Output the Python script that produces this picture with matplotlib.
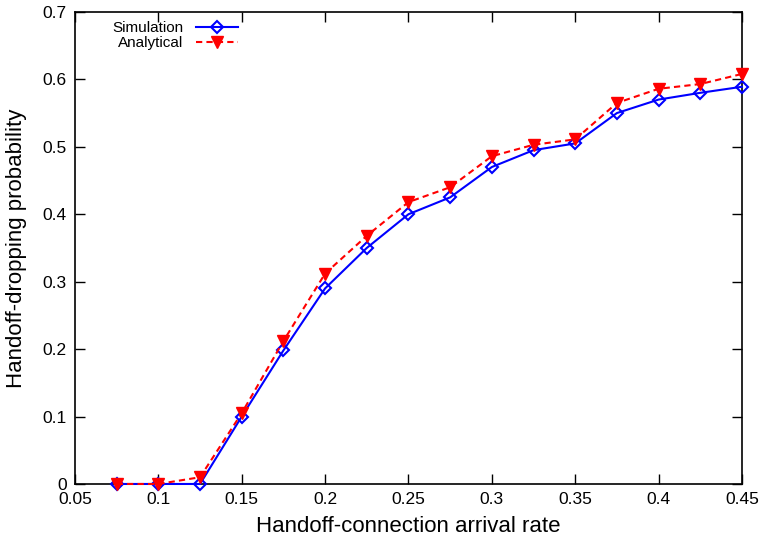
import matplotlib
matplotlib.use("Agg")
import matplotlib.pyplot as plt
from matplotlib.ticker import FuncFormatter

rate = [0.075, 0.1, 0.125, 0.15, 0.175, 0.2, 0.225, 0.25, 0.275, 0.3,
        0.325, 0.35, 0.375, 0.4, 0.425, 0.45]
simulation = [0.0, 0.0, 0.0, 0.100, 0.198, 0.290, 0.350, 0.400, 0.425, 0.470,
              0.495, 0.505, 0.550, 0.570, 0.580, 0.589]
analytical = [0.0, 0.0, 0.010, 0.105, 0.212, 0.312, 0.368, 0.418, 0.440, 0.486,
              0.503, 0.511, 0.565, 0.586, 0.593, 0.608]

xticks = [0.05, 0.1, 0.15, 0.2, 0.25, 0.3, 0.35, 0.4, 0.45]
yticks = [0, 0.1, 0.2, 0.3, 0.4, 0.5, 0.6, 0.7]

plt.rcParams['font.family'] = ['Liberation Sans', 'DejaVu Sans']

fig = plt.figure(figsize=(7.62, 5.41), dpi=100)
ax = fig.add_axes([0.0984, 0.1054, 0.8753, 0.8726])

ax.plot(rate, simulation, color='#0000ff', lw=1.5, marker='D', ms=6.5,
        mfc='none', mec='#0000ff', mew=1.5, label='Simulation', clip_on=False,
        zorder=3)
ax.plot(rate, analytical, color='#ff0000', lw=1.5, ls=(0, (3, 2)), marker='v',
        ms=9, mfc='#ff0000', mec='#ff0000', label='Analytical', clip_on=False,
        zorder=3)

ax.set_xlim(0.05, 0.45)
ax.set_ylim(0, 0.7)
ax.set_xticks(xticks)
ax.set_yticks(yticks)
fmt = FuncFormatter(lambda v, p: '%g' % round(v, 3))
ax.xaxis.set_major_formatter(fmt)
ax.yaxis.set_major_formatter(fmt)
ax.tick_params(direction='in', top=True, right=True, length=7, width=1,
               labelsize=12.5, pad=6)
for s in ax.spines.values():
    s.set_linewidth(1.2)

ax.set_xlabel('Handoff-connection arrival rate', fontsize=16, labelpad=6)
ax.set_ylabel('Handoff-dropping probability', fontsize=16, labelpad=11)

ax.legend(loc='upper left', bbox_to_anchor=(0.04, 1.003), frameon=False,
          markerfirst=False, fontsize=11, handlelength=2.8,
          labelspacing=0.05, borderaxespad=0.3)

fig.savefig('out.png', dpi=100)
